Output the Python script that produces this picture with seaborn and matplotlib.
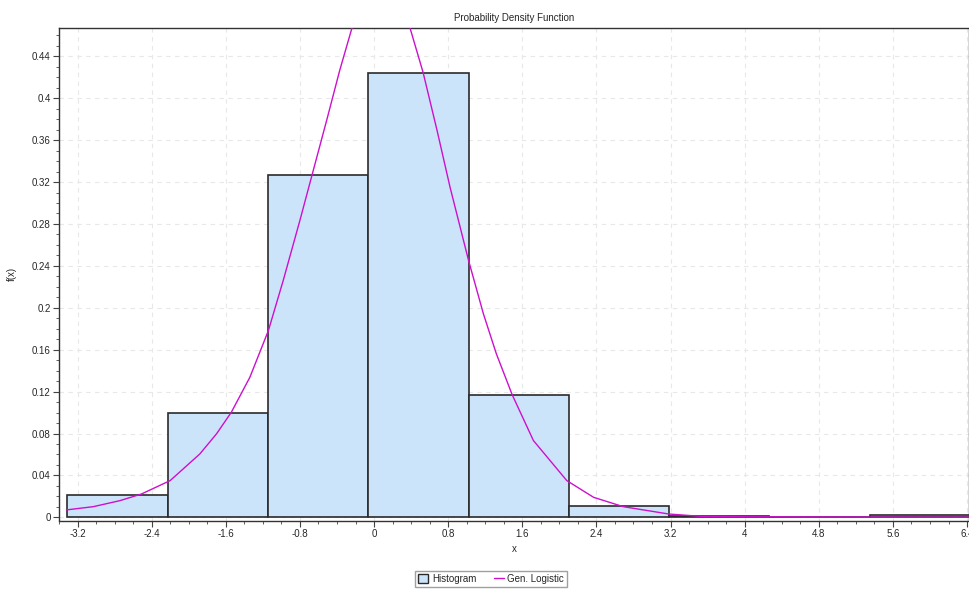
import numpy as np
import pandas as pd
import seaborn as sns
import matplotlib
matplotlib.use("Agg")
import matplotlib.pyplot as plt
from matplotlib.ticker import MultipleLocator, AutoMinorLocator, FuncFormatter
from matplotlib.patches import Patch
from matplotlib.lines import Line2D

# histogram bins
bin_edges = [-3.31, -2.22, -1.14, -0.06, 1.02, 2.10, 3.18, 4.26, 5.35, 6.43]
bin_heights = [0.0217, 0.0997, 0.3264, 0.4244, 0.1172, 0.0105, 0.0016, 0.0, 0.0019]

# fitted Gen. Logistic density
curve_x = [-3.32, -3.03, -2.74, -2.51, -2.20, -1.88, -1.70, -1.54, -1.34, -1.14,
           -0.98, -0.80, -0.67, -0.51, -0.37, -0.24, -0.10, 0.07, 0.25, 0.39,
           0.53, 0.68, 0.82, 1.02, 1.18, 1.32, 1.49, 1.72, 2.08, 2.37,
           2.69, 3.18, 3.52, 4.00, 4.80, 5.60, 6.43]
curve_y = [0.0071, 0.0102, 0.0160, 0.0223, 0.0351, 0.0605, 0.0797, 0.1003, 0.1337, 0.1783,
           0.2261, 0.2834, 0.3264, 0.3793, 0.4267, 0.4665, 0.497, 0.508, 0.494, 0.4665,
           0.4244, 0.3693, 0.3152, 0.2452, 0.1943, 0.1561, 0.1172, 0.0733, 0.0351, 0.0191,
           0.0102, 0.0032, 0.0010, 0.0006, 0.0004, 0.0003, 0.0002]

sns.set_style("white")
plt.rcParams['font.family'] = ['Liberation Sans', 'DejaVu Sans']

fig = plt.figure(figsize=(9.69, 5.89), dpi=100)
ax = fig.add_axes([59 / 969, 1 - 520.5 / 589, 1 - 59 / 969, (520.5 - 28) / 589])

centers = [(bin_edges[i] + bin_edges[i + 1]) / 2 for i in range(len(bin_heights))]
hist_df = pd.DataFrame({"x": centers, "w": bin_heights})
sns.histplot(data=hist_df, x="x", weights="w", bins=bin_edges, stat="count",
             color="#cce4fa", alpha=1, edgecolor="#2b2b2b", linewidth=1.2, ax=ax, zorder=2)

curve_df = pd.DataFrame({"x": curve_x, "y": curve_y})
sns.lineplot(data=curve_df, x="x", y="y", color="#cc10cc", linewidth=1.0,
             estimator=None, sort=False, ax=ax, zorder=3)

ax.set_xlim(-3.40, 6.421)
ax.set_ylim(-0.003, 0.467)
ax.xaxis.set_major_locator(MultipleLocator(0.8))
ax.yaxis.set_major_locator(MultipleLocator(0.04))
ax.xaxis.set_minor_locator(AutoMinorLocator(4))
ax.yaxis.set_minor_locator(AutoMinorLocator(4))
fmt = FuncFormatter(lambda v, p: f"{round(v, 3):g}")
ax.xaxis.set_major_formatter(fmt)
ax.yaxis.set_major_formatter(fmt)
ax.tick_params(axis="both", which="major", direction="out", length=4, width=0.8,
               labelsize=7, color="#444444", pad=2, bottom=True, left=True)
ax.tick_params(axis="both", which="minor", direction="out", length=2, width=0.6,
               color="#444444", bottom=True, left=True)

ax.grid(True, which="major", linestyle=(0, (4, 4)), color="#e8e8e8", linewidth=0.8, zorder=0)
ax.set_axisbelow(True)
for s in ax.spines.values():
    s.set_color("#333333")
    s.set_linewidth(1.0)

ax.set_title("Probability Density Function", fontsize=7, pad=5)
ax.set_xlabel("x", fontsize=7, labelpad=4)
ax.set_ylabel("f(x)", fontsize=7)
ax.yaxis.set_label_coords(-0.046, 0.5)

handles = [Patch(facecolor="#cce4fa", edgecolor="#2b2b2b", linewidth=1.0),
           Line2D([0], [0], color="#cc10cc", linewidth=1.0)]
fig.legend(handles, ["Histogram", "Gen. Logistic"], loc="center",
           bbox_to_anchor=(0.507, 0.017), ncol=2, fontsize=7, frameon=True,
           fancybox=False, edgecolor="#a0a0a0", framealpha=1,
           handlelength=1.0, handleheight=1.0, borderpad=0.3, columnspacing=1.8,
           handletextpad=0.4)

fig.savefig("out.png", dpi=100)
